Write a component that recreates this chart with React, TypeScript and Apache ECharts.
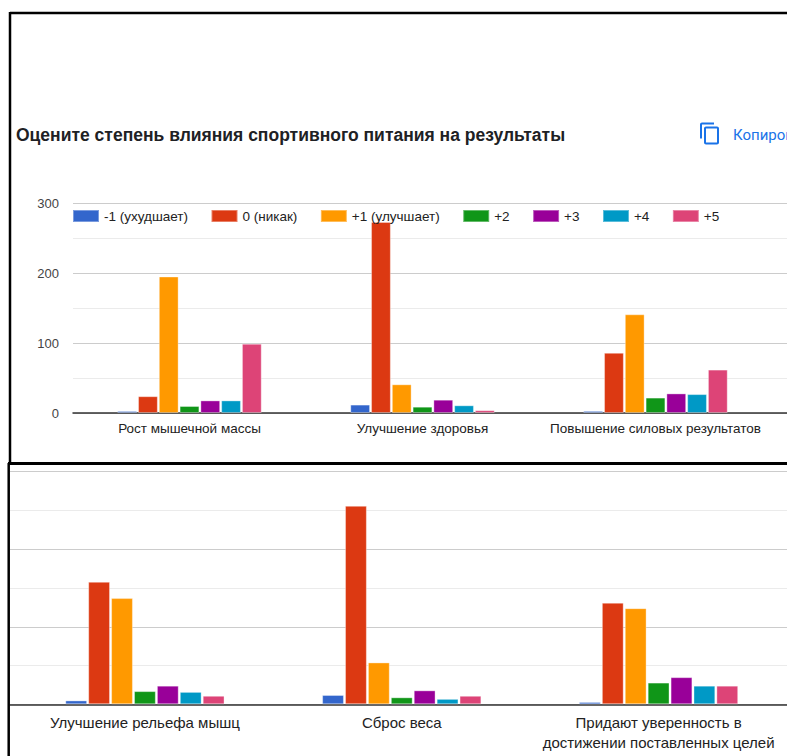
import React, { useEffect, useRef } from "react";
import * as echarts from "echarts";

// Survey answers: how sports nutrition affects results
const categories = [
  "Рост мышечной массы",
  "Улучшение здоровья",
  "Повышение силовых результатов",
  "Улучшение рельефа мышц",
  "Сброс веса",
  "Придают уверенность в достижении поставленных целей",
];

const seriesNames = ["-1 (ухудшает)", "0 (никак)", "+1 (улучшает)", "+2", "+3", "+4", "+5"];
const seriesColors = ["#3366cc", "#dc3912", "#ff9900", "#109618", "#990099", "#0099c6", "#dd4477"];

const valuesMinus1 = [3, 12, 3, 5, 12, 3];
const values0 = [24, 273, 86, 158, 256, 131];
const valuesPlus1 = [195, 41, 141, 137, 54, 124];
const valuesPlus2 = [10, 9, 22, 17, 9, 28];
const valuesPlus3 = [18, 19, 28, 24, 18, 35];
const valuesPlus4 = [18, 11, 27, 16, 7, 24];
const valuesPlus5 = [99, 4, 62, 11, 11, 24];

const seriesValues = [valuesMinus1, values0, valuesPlus1, valuesPlus2, valuesPlus3, valuesPlus4, valuesPlus5];

const yTicks = [0, 100, 200, 300];

const titleText = "Оцените степень влияния спортивного питания на результаты";
const copyText = "Копировать";

const COPY_ICON =
  "M16 1H4c-1.1 0-2 .9-2 2v14h2V3h12V1zm3 4H8c-1.1 0-2 .9-2 2v14c0 1.1.9 2 2 2h11c1.1 0 2-.9 2-2V7c0-1.1-.9-2-2-2zm0 16H8V7h11v14z";

echarts.graphic.registerShape("copyIcon", echarts.graphic.extendPath(COPY_ICON, {}) as any);

const FONT = "'Liberation Sans', Arial, sans-serif";

export default function App() {
  const ref = useRef<HTMLDivElement>(null);

  useEffect(() => {
    if (!ref.current) return;
    const chart = echarts.init(ref.current, undefined, { renderer: "svg" });

    const yMax = yTicks[yTicks.length - 1];
    const topCats = categories.slice(0, 3);
    const bottomCats = categories.slice(3);

    // Background grids carry the gridlines and baseline across the full width
    const lineYAxis = (gridIndex: number, showLabels: boolean) => ({
      type: "value" as const,
      gridIndex,
      min: yTicks[0],
      max: yMax,
      interval: yTicks[1] - yTicks[0],
      axisLine: { show: false },
      axisTick: { show: false },
      axisLabel: {
        show: showLabels,
        color: "#444",
        fontSize: 13,
        fontFamily: FONT,
        margin: 14,
      },
      splitLine: { show: true, lineStyle: { color: "#cccccc", width: 1 } },
      minorTick: { show: false, splitNumber: 2 },
      minorSplitLine: { show: true, lineStyle: { color: "#ebebeb", width: 1 } },
    });

    const barYAxis = (gridIndex: number) => ({
      type: "value" as const,
      gridIndex,
      min: yTicks[0],
      max: yMax,
      show: false,
      splitLine: { show: false },
    });

    const lineXAxis = (gridIndex: number) => ({
      type: "value" as const,
      gridIndex,
      min: 0,
      max: 1,
      axisLine: { show: true, onZero: false, lineStyle: { color: "#333", width: 1.5 } },
      axisTick: { show: false },
      axisLabel: { show: false },
      splitLine: { show: false },
    });

    const barXAxis = (gridIndex: number, cats: string[], fontSize: number, lineHeight: number, margin: number) => ({
      type: "category" as const,
      gridIndex,
      data: cats,
      axisLine: { show: false },
      axisTick: { show: false },
      axisLabel: {
        color: "#222",
        fontSize,
        lineHeight,
        fontFamily: FONT,
        margin,
        interval: 0,
        formatter: (v: string) => v.replace(" в ", " в\n"),
      },
    });

    const makeSeries = (xIdx: number, yIdx: number, from: number) =>
      seriesNames.map((name, i) => ({
        type: "bar" as const,
        name,
        xAxisIndex: xIdx,
        yAxisIndex: yIdx,
        data: seriesValues[i].slice(from, from + 3),
        barGap: "5%",
        barCategoryGap: "38%",
        itemStyle: { color: seriesColors[i], borderColor: "rgba(255,255,255,0.35)", borderWidth: 1 },
        z: 3,
      }));

    chart.setOption({
      animation: false,
      backgroundColor: "#ffffff",
      textStyle: { fontFamily: FONT },
      legend: {
        data: seriesNames,
        left: 72,
        top: 209,
        padding: 0,
        icon: "rect",
        itemWidth: 26,
        itemHeight: 12,
        itemGap: 22.5,
        textStyle: { fontSize: 13.5, color: "#222", fontFamily: FONT },
        z: 10,
      },
      grid: [
        { left: 73, top: 203, width: 699, height: 210 },
        { left: 73, top: 203, right: -2, height: 210 },
        { left: 16.5, top: 471.7, width: 781, height: 232.6 },
        { left: 10, top: 471.7, right: -2, height: 232.6 },
      ],
      xAxis: [
        barXAxis(0, topCats, 13.5, 16, 7),
        lineXAxis(1),
        barXAxis(2, bottomCats, 15, 20, 8),
        lineXAxis(3),
      ],
      yAxis: [barYAxis(0), lineYAxis(1, true), barYAxis(2), lineYAxis(3, false)],
      series: [...makeSeries(0, 0, 0), ...makeSeries(2, 2, 3)],
      graphic: [
        {
          type: "text",
          left: 16,
          top: 126,
          style: {
            text: titleText,
            fontSize: 17.5,
            fontWeight: "bold",
            fill: "#202124",
            fontFamily: FONT,
          },
        },
        {
          type: "copyIcon",
          x: 698,
          y: 121.5,
          scaleX: 1,
          scaleY: 1,
          style: { fill: "#1a73e8" },
        },
        {
          type: "text",
          x: 733,
          y: 135,
          style: {
            text: copyText,
            fontSize: 15,
            fill: "#1a73e8",
            fontFamily: "Roboto, sans-serif",
            verticalAlign: "middle",
          },
        },
        // panel frames
        { type: "line", shape: { x1: 10, y1: 13, x2: 787, y2: 13 }, style: { stroke: "#000", lineWidth: 2.5 }, z: 20 },
        { type: "line", shape: { x1: 10, y1: 12, x2: 10, y2: 464 }, style: { stroke: "#000", lineWidth: 2.5 }, z: 20 },
        { type: "line", shape: { x1: 8, y1: 463.5, x2: 787, y2: 463.5 }, style: { stroke: "#000", lineWidth: 3 }, z: 20 },
        { type: "line", shape: { x1: 8.7, y1: 463, x2: 8.7, y2: 756 }, style: { stroke: "#000", lineWidth: 2.5 }, z: 20 },
      ],
    });

    return () => chart.dispose();
  }, []);

  return (
    <div
      ref={ref}
      style={{ position: "fixed", left: 0, top: 0, width: 787, height: 756, overflow: "hidden", background: "#fff" }}
    />
  );
}
